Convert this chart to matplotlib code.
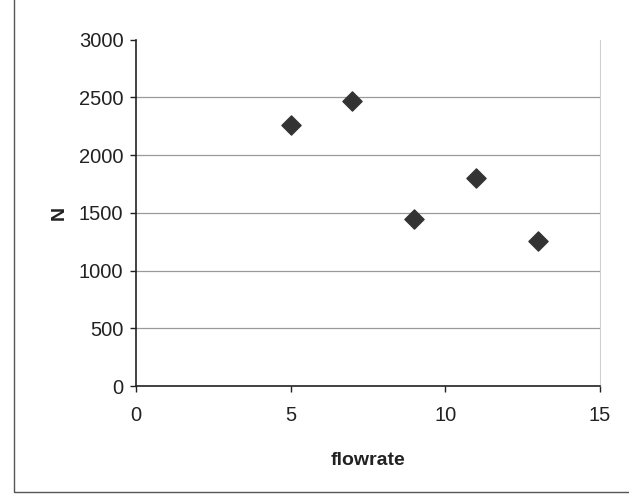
import matplotlib
matplotlib.use("Agg")
import matplotlib.pyplot as plt
from matplotlib.patches import Rectangle

flowrate = [5, 7, 9, 11, 13]
N = [2260, 2470, 1450, 1800, 1260]
xticks = [0, 5, 10, 15]
yticks = [0, 500, 1000, 1500, 2000, 2500, 3000]

plt.rcParams['font.family'] = ['Liberation Sans', 'DejaVu Sans']

fig = plt.figure(figsize=(6.29, 4.97), dpi=100)
ax = fig.add_axes([0.216, 0.223, 0.738, 0.697])

ax.scatter(flowrate, N, marker='D', s=95, color='#333333', zorder=3)

ax.set_xlim(0, 15)
ax.set_ylim(0, 3000)
ax.set_xticks(xticks)
ax.set_yticks(yticks)
ax.yaxis.grid(True, color='#9a9a9a', linewidth=0.9)
ax.set_axisbelow(True)
fig.canvas.draw()
ax.yaxis.get_gridlines()[-1].set_visible(False)

ax.spines['top'].set_visible(False)
ax.spines['right'].set_color('#d0d0d0')
ax.spines['left'].set_color('#222222')
ax.spines['bottom'].set_color('#222222')
ax.spines['left'].set_linewidth(1.2)
ax.spines['bottom'].set_linewidth(1.2)

ax.tick_params(axis='both', direction='out', length=4, width=1, colors='#222222',
               labelsize=14.5, labelcolor='#222222')
ax.tick_params(axis='x', pad=10)
ax.tick_params(axis='y', pad=5)

ax.set_xlabel('flowrate', fontsize=14, fontweight='bold', color='#222222', labelpad=20)
ax.set_ylabel('N', fontsize=14, fontweight='bold', color='#222222', labelpad=8)

fig.patches.append(Rectangle((0.022, 0.01), 1.2, 1.2, transform=fig.transFigure,
                             fill=False, edgecolor='#555555', linewidth=1.0))

fig.savefig('out.png', dpi=100)
